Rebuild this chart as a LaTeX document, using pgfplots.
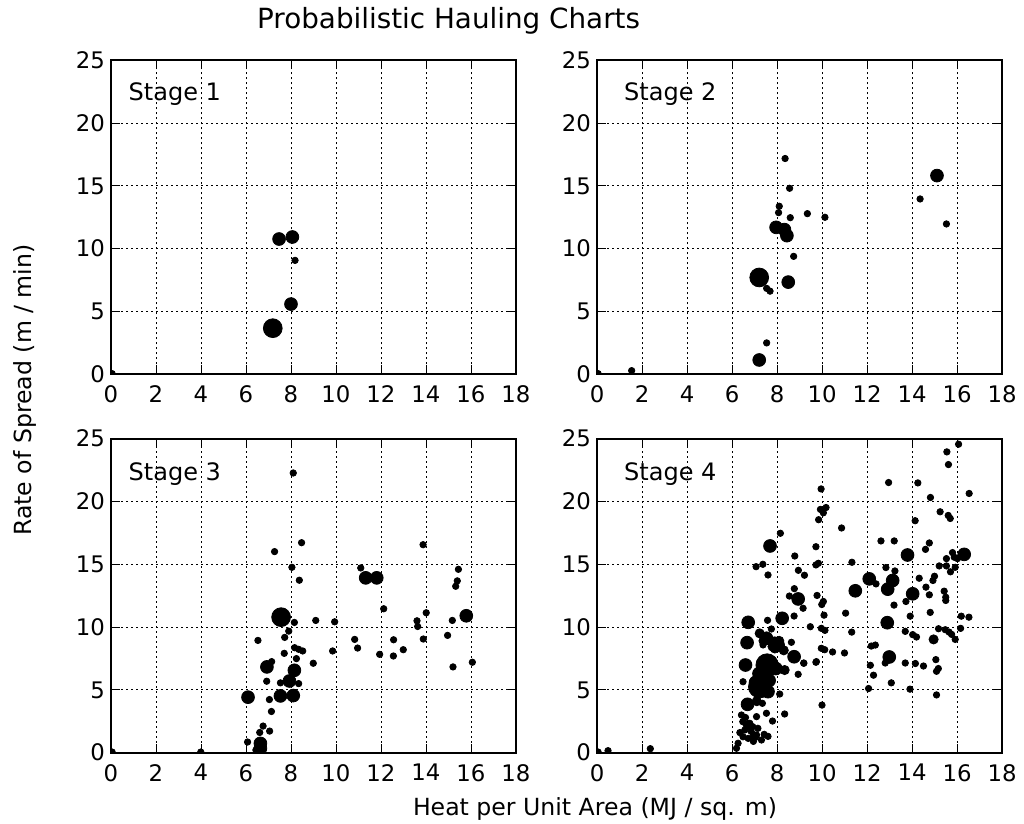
\documentclass[border=0pt]{standalone}
\usepackage{fontspec}
\setmainfont{DejaVu Sans}
\usepackage{pgfplots}
\pgfplotsset{compat=1.18}

\pgfplotsset{
  stage/.style={
    scale only axis, width=202.5pt, height=157pt, anchor=south west,
    xmin=0, xmax=18, ymin=0, ymax=25,
    xtick={0,2,...,18}, ytick={0,5,...,25},
    tick align=inside, tick pos=both, major tick length=4.5pt,
    every tick/.style={black, line width=0.5pt},
    axis line style={line width=1.1pt},
    grid=major, grid style={black, line width=0.5pt, dash pattern=on 1pt off 1.5pt},
    tick label style={font=\fontsize{11.4}{13}\selectfont},
    yticklabel style={inner sep=0pt, xshift=-2.8pt},
    xticklabel style={inner sep=0pt, yshift=-5.6pt},
    /pgf/number format/assume math mode=true,
    clip marker paths=true,
  },
  tiny/.style={only marks, mark=*, mark size=1.6pt, black},
  med/.style={only marks, mark=*, mark size=3.2pt, black},
  big/.style={only marks, mark=*, mark size=4.7pt, black},
}
\tikzset{lbl/.style={anchor=base west, inner sep=0pt, font=\fontsize{12}{14}\selectfont}}

\begin{document}
\begin{tikzpicture}
\path[use as bounding box] (0,0) rectangle (512pt,412pt);

% Stage 1
\begin{axis}[stage, at={(55.5pt,224.85pt)}]
\addplot[tiny] coordinates {(0.05,0.05) (8.18,9.07)};
\addplot[med] coordinates {(7.47,10.77) (8.06,10.93) (8.0,5.59)};
\addplot[big] coordinates {(7.19,3.67)};
\node[lbl] at (axis cs:0.77,21.8) {Stage 1};
\end{axis}

% Stage 2
\begin{axis}[stage, at={(298.5pt,224.85pt)}]
\addplot[tiny] coordinates {
  (8.36,17.18) (8.56,14.81) (8.10,13.38) (8.07,12.87) (8.59,12.47)
  (9.35,12.79) (10.13,12.5) (8.74,9.39) (7.69,6.62) (7.54,6.84)
  (7.54,2.50) (1.54,0.29) (0.05,0.05) (14.36,13.96) (15.53,11.97)};
\addplot[med] coordinates {
  (7.96,11.70) (8.33,11.52) (8.44,11.04) (8.50,7.34) (7.21,1.14) (15.11,15.82)};
\addplot[big] coordinates {(7.21,7.71)};
\node[lbl] at (axis cs:1.19,21.8) {Stage 2};
\end{axis}

% Stage 3
\begin{axis}[stage, at={(55.5pt,35.65pt)}]
\addplot[tiny] coordinates {
  (8.10,22.27) (8.47,16.72) (7.27,16.01) (8.04,14.76) (8.37,13.73)
  (11.10,14.71) (13.87,16.56) (15.44,14.60) (15.39,13.68) (15.32,13.25)
  (12.12,11.46) (14.01,11.14) (7.67,11.24) (8.15,10.37) (9.10,10.53)
  (9.94,10.42) (13.60,10.50) (13.63,10.05) (15.17,10.53) (14.96,9.34)
  (13.88,9.05) (10.83,9.02) (10.96,8.33) (12.56,8.99) (12.99,8.20)
  (11.94,7.83) (12.55,7.70) (9.85,8.10) (15.20,6.83) (16.06,7.20)
  (7.90,9.68) (7.72,9.18) (6.53,8.94) (7.70,7.91) (8.16,8.36)
  (8.34,8.23) (8.52,8.10) (8.24,7.49) (8.99,7.12) (7.14,7.25)
  (8.34,5.50) (6.92,5.69) (7.53,5.56) (7.04,4.23) (7.13,3.28)
  (6.76,2.12) (6.61,1.61) (7.05,1.72) (6.07,0.85) (6.44,0.21)
  (3.99,0.05) (0.05,0.05)};
\addplot[med] coordinates {
  (11.32,13.92) (11.81,13.92) (15.79,10.90) (6.93,6.83) (8.15,6.56)
  (7.93,5.71) (6.09,4.42) (7.53,4.52) (8.10,4.55) (6.64,0.74) (6.64,0.34)};
\addplot[big] coordinates {(7.56,10.79)};
\node[lbl] at (axis cs:0.77,21.7) {Stage 3};
\end{axis}

% Stage 4
\begin{axis}[stage, at={(298.5pt,35.65pt)}]
\addplot[tiny] coordinates {
  (8.15,17.47) (8.79,15.66) (7.37,15.0) (7.07,14.81) (7.60,14.15)
  (8.95,14.52) (8.77,13.06) (8.55,12.47) (8.92,12.43)
  (16.07,24.56) (15.55,23.95) (15.62,22.94) (12.96,21.51) (14.26,21.48)
  (16.54,20.64) (14.82,20.32) (9.96,21.0)
  (9.93,19.37) (10.06,19.1) (10.18,19.52) (9.85,18.55) (10.87,17.89)
  (15.25,19.18) (15.61,18.89) (15.70,18.65) (14.14,18.47)
  (12.62,16.86) (13.21,16.86) (14.77,16.70) (9.73,16.40) (14.60,16.19)
  (15.8,15.93) (15.88,15.56) (16.02,15.45) (15.53,15.45)
  (11.33,15.16) (9.73,14.95) (9.84,15.08) (9.22,14.13) (12.84,14.74)
  (13.24,14.47) (15.21,14.87) (15.53,14.87) (15.92,14.76) (15.71,14.4)
  (12.40,13.44) (14.32,13.89) (15.0,14.05) (14.93,13.71) (14.62,13.18)
  (9.78,12.52) (14.77,12.57) (15.43,12.86) (15.50,12.38)
  (9.99,11.8) (10.06,12.04) (9.16,11.5) (10.09,10.95) (11.05,11.11)
  (13.20,11.75) (13.73,12.04) (15.5,12.12) (13.92,10.87) (14.81,11.17)
  (16.19,10.87) (16.53,10.79)
  (9.48,10.03) (9.97,9.9) (10.13,9.74) (11.32,9.60) (13.70,9.66)
  (14.03,9.40) (14.2,9.21) (15.18,9.87) (15.48,9.79) (15.65,9.60)
  (15.76,9.42) (16.16,9.90) (15.92,9.02)
  (10.12,8.2) (10.47,8.02) (11.0,7.94) (9.97,8.31) (12.19,8.49)
  (12.37,8.57) (12.81,7.14) (9.73,7.2) (9.19,7.14) (13.70,7.14)
  (14.15,7.10) (14.51,6.90) (15.06,7.41) (15.17,6.70) (15.09,6.48)
  (12.15,6.96) (12.29,6.17) (13.08,5.56) (12.07,5.11) (13.91,5.06)
  (15.09,4.60) (10.0,3.79)
  (7.58,10.54) (8.76,10.88) (7.75,9.85) (8.2,8.31) (7.38,8.58)
  (8.64,8.79) (9.19,7.12) (9.75,7.25) (8.94,6.24) (6.49,5.65)
  (8.12,4.67) (7.35,3.93) (7.09,2.87) (7.53,3.14) (7.8,2.52)
  (8.34,3.08) (6.42,3.0) (6.48,2.47) (6.79,2.34) (6.92,2.07)
  (6.57,1.81) (7.15,1.94) (6.49,1.27) (6.72,1.14) (7.09,1.41)
  (7.43,1.46) (7.31,1.01) (6.27,0.75) (6.2,0.35) (6.35,1.6)
  (6.6,2.8) (6.85,1.7) (7.6,1.3) (6.95,0.9)
  (0.49,0.16) (0.05,0.05) (2.37,0.32)};
\addplot[only marks, mark=*, mark size=2.3pt, black] coordinates {
  (8.34,6.58) (7.23,9.5) (14.96,9.02) (7.9,8.3) (8.1,8.9) (7.4,8.9)
  (7.8,8.45) (8.3,8.15) (7.1,4.1) (6.7,2.2) (7.0,1.3)};
\addplot[med] coordinates {
  (7.69,16.46) (13.80,15.74) (16.32,15.79) (12.10,13.84) (13.14,13.71)
  (12.92,13.02) (11.48,12.89) (14.03,12.65) (12.90,10.35) (12.99,7.62)
  (6.72,10.38) (8.23,10.70) (8.94,12.24) (6.67,8.76) (7.53,9.11)
  (7.9,8.71) (8.76,7.64) (6.60,6.98) (7.6,4.86) (6.69,3.85)
  (7.95,6.7) (7.2,6.3) (7.05,5.6) (7.65,5.75) (8.05,8.55)};
\addplot[only marks, mark=*, mark size=5.6pt, black] coordinates {(7.56,6.98) (7.23,5.25)};
\node[lbl] at (axis cs:1.19,21.7) {Stage 4};
\end{axis}

\node[anchor=base, inner sep=0pt, font=\fontsize{13.9}{16}\selectfont] at (224.3pt,397.5pt) {Probabilistic Hauling Charts};
\node[anchor=base, inner sep=0pt, rotate=90, font=\fontsize{11.8}{14}\selectfont] at (15.85pt,217pt) {Rate of Spread (m / min)};
\node[anchor=base, inner sep=0pt, font=\fontsize{11.8}{14}\selectfont] at (297.5pt,4pt) {Heat per Unit Area (MJ / sq. m)};
\end{tikzpicture}
\end{document}
